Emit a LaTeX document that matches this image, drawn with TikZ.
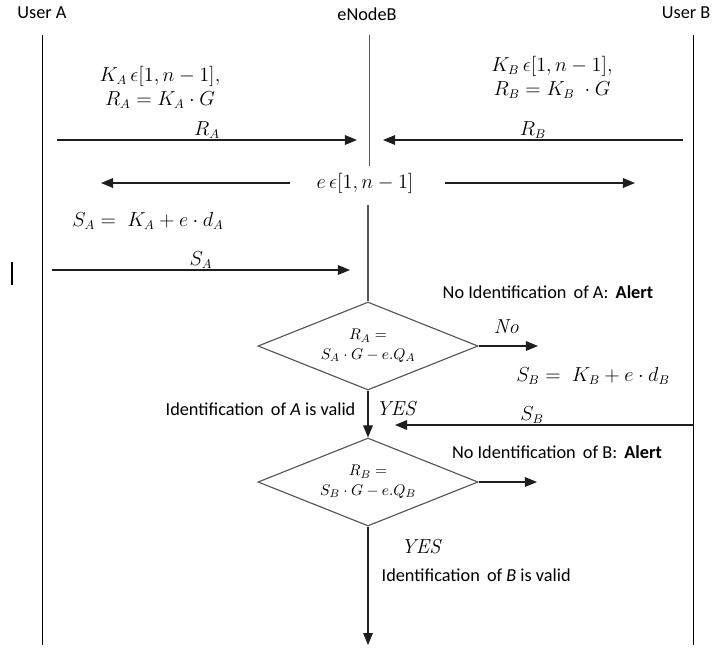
\documentclass[tikz,border=0pt]{standalone}
\usepackage[no-math]{fontspec}
\setmainfont{Carlito}
\usetikzlibrary{positioning,arrows.meta,shapes.geometric}
\definecolor{ink}{RGB}{30,30,30}
\definecolor{edge}{RGB}{85,85,85}
\tikzset{
  life/.style={draw=black, semithick},
  msg/.style={-{Triangle[length=3mm,width=2.4mm]}, thick, draw=ink},
  lbl/.style={font=\fontsize{13}{15}\selectfont, inner sep=1pt},
  eqn/.style={font=\fontsize{13.5}{17}\selectfont, inner sep=1pt, align=center},
  test/.style={draw=edge, thick, diamond, aspect=2.5, minimum width=5.5cm, minimum height=2.2cm, inner sep=0pt, font=\fontsize{11}{14}\selectfont, align=center}
}

\begin{document}
\begin{tikzpicture}[x=0.025cm, y=-0.025cm]
    \useasboundingbox (0,0) rectangle (713,647);
    % lifelines
    \node[lbl] (ua) at (42,13) {User A};
    \node[lbl] (enb) at (367,14) {eNodeB};
    \node[lbl, anchor=east] (ub) at (712,13) {User B};
    \coordinate (a0) at (42,35);  \coordinate (a1) at (42,645);
    \coordinate (b0) at (693,35); \coordinate (b1) at (693,645);
    \coordinate (e0) at (369,35); \coordinate (e1) at (369,166);
    \coordinate (e2) at (368,205);
    \draw[life] (a0) -- (a1);
    \draw[life] (b0) -- (b1);
    \draw[life, draw=edge] (e0) -- (e1);
    \coordinate (m0) at (12,262); \coordinate (m1) at (12,285);
    \draw[life, thick] (m0) -- (m1);
    % key generation
    \node[eqn] (genA) at (160,87) {$K_A\,\epsilon[1,n-1],$\\ $R_A = K_A\cdot G$};
    \node[eqn] (genB) at (552,77) {$K_B\,\epsilon[1,n-1],$\\ $R_B = K_B\;\cdot G$};
    \coordinate (ra0) at (57,140);  \coordinate (ra1) at (357,140);
    \coordinate (rb0) at (683,140); \coordinate (rb1) at (383,140);
    \draw[msg] (ra0) -- node[eqn, above] {$R_A$} (ra1);
    \draw[msg] (rb0) -- node[eqn, above] {$R_B$} (rb1);
    % challenge
    \node[eqn] (chal) at (365,183) {$e\,\epsilon[1,n-1]$};
    \coordinate (cl0) at (290,183); \coordinate (cl1) at (101,183);
    \coordinate (cr0) at (445,183); \coordinate (cr1) at (635,183);
    \draw[msg] (cl0) -- (cl1);
    \draw[msg] (cr0) -- (cr1);
    % response of A
    \node[eqn] (sigA) at (148,221) {$S_A =\; K_A + e\cdot d_A$};
    \coordinate (sa0) at (52,270); \coordinate (sa1) at (350,270);
    \draw[msg] (sa0) -- node[eqn, above] {$S_A$} (sa1);
    % check of A
    \node[test] (chkA) at (368,346) {$R_A =$\\ $S_A\cdot G - e.Q_A$};
    \draw[life, draw=edge, thick] (e2) -- (chkA.north);
    \node[lbl] (alertA) at (548,292) {No Identification\, of A:\, \textbf{Alert}};
    \coordinate (na) at (538,346);
    \draw[msg] (chkA.east) -- (na);
    \node[eqn] (noA) at (507,327) {$\mathit{No}$};
    \node[eqn] (sigB) at (593,376) {$S_B =\; K_B + e\cdot d_B$};
    \node[lbl, anchor=east] (okA) at (357,409) {Identification\, of \textit{A} is valid};
    \node[eqn] (yesA) at (397,409) {$\mathit{YES}$};
    \coordinate (sb0) at (693,425); \coordinate (sb1) at (395,425);
    \draw[msg] (sb0) -- node[eqn, above, pos=0.54] {$S_B$} (sb1);
    % check of B
    \node[test] (chkB) at (368,482) {$R_B =$\\ $S_B\cdot G - e.Q_B$};
    \draw[msg] (chkA.south) -- (chkB.north);
    \node[lbl] (alertB) at (557,452) {No Identification\, of B:\, \textbf{Alert}};
    \coordinate (nb) at (537,482);
    \draw[msg] (chkB.east) -- (nb);
    \node[eqn] (yesB) at (422,547) {$\mathit{YES}$};
    \node[lbl, anchor=west] (okB) at (380,575) {Identification\, of \textit{B} is valid};
    \coordinate (end) at (368,645);
    \draw[msg] (chkB.south) -- (end);
\end{tikzpicture}
\end{document}
